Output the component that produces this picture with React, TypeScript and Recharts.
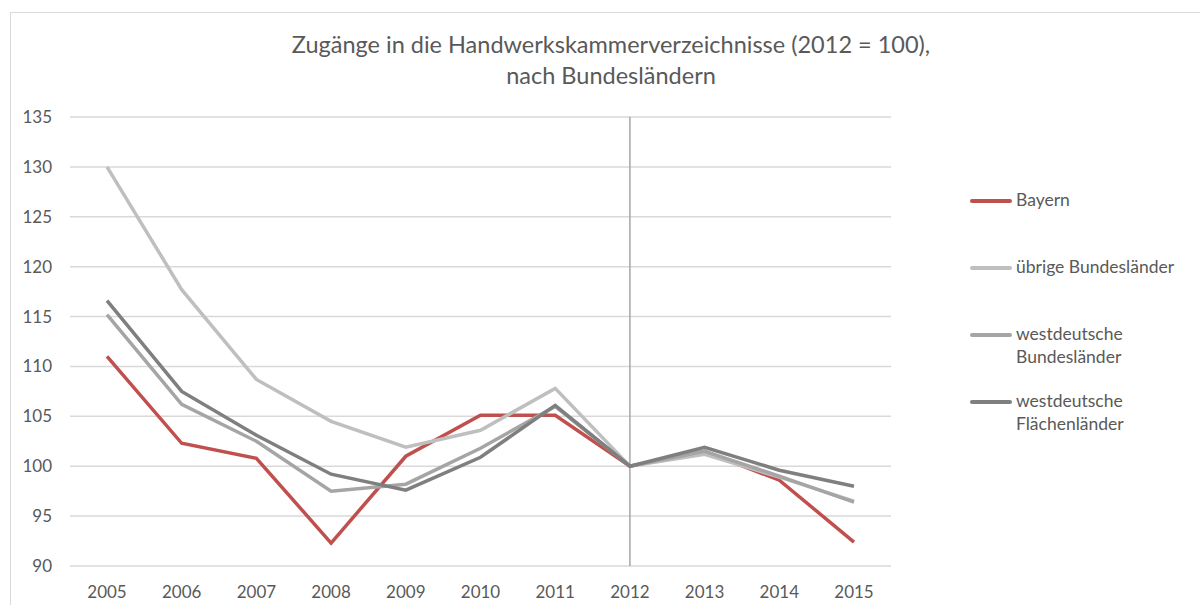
import React from 'react';
import { LineChart, Line, XAxis, YAxis, CartesianGrid, ReferenceLine } from 'recharts';

const YEARS = ['2005', '2006', '2007', '2008', '2009', '2010', '2011', '2012', '2013', '2014', '2015'];
const BAYERN = [111.0, 102.3, 100.8, 92.3, 101.0, 105.1, 105.1, 100.0, 101.5, 98.6, 92.4];
const UEBRIGE = [130.0, 117.7, 108.7, 104.5, 101.9, 103.6, 107.8, 100.0, 101.2, 98.9, 96.5];
const WEST_BL = [115.2, 106.2, 102.5, 97.5, 98.2, 101.8, 106.0, 100.0, 101.5, 99.0, 96.4];
const WEST_FL = [116.6, 107.5, 103.1, 99.2, 97.6, 100.9, 106.1, 100.0, 101.9, 99.6, 98.0];
const Y_TICKS = [90, 95, 100, 105, 110, 115, 120, 125, 130, 135];

const SERIES = [
  { key: 'bayern', name: 'Bayern', lines: ['Bayern'], color: '#c0504d', values: BAYERN },
  { key: 'uebrige', name: 'übrige Bundesländer', lines: ['übrige Bundesländer'], color: '#bfbfbf', values: UEBRIGE },
  { key: 'westBl', name: 'westdeutsche Bundesländer', lines: ['westdeutsche', 'Bundesländer'], color: '#a5a5a5', values: WEST_BL },
  { key: 'westFl', name: 'westdeutsche Flächenländer', lines: ['westdeutsche', 'Flächenländer'], color: '#7f7f7f', values: WEST_FL },
];

const FONT = 'Lato, "Open Sans", sans-serif';
const TEXT = '#595959';

const data = YEARS.map((year, i) => {
  const row: any = { year };
  SERIES.forEach(s => { row[s.key] = s.values[i]; });
  return row;
});

// legend drawn next to the chart, Excel style
const LegendBox = () => (
  <div style={{ fontFamily: FONT, fontSize: 17.5, color: TEXT }}>
    {SERIES.map(s => (
      <div key={s.key} style={{ display: 'flex', alignItems: 'flex-start', height: 67 }}>
        <div style={{ width: 42, height: 4, background: s.color, marginTop: 11, marginRight: 4, borderRadius: 2 }} />
        <div style={{ lineHeight: '23px' }}>
          {s.lines.map(l => <div key={l}>{l}</div>)}
        </div>
      </div>
    ))}
  </div>
);

export default function App() {
  return (
    <div style={{ position: 'fixed', left: 0, top: 0, width: 1200, height: 605, background: '#fff', overflow: 'hidden' }}>
      <div style={{ position: 'absolute', left: 10, top: 12, width: 1300, height: 700, border: '1px solid #d9d9d9' }} />
      <div style={{ position: 'absolute', left: 0, top: 29, width: 1222, textAlign: 'center', fontFamily: FONT, fontSize: 23.5, color: TEXT, lineHeight: '31px' }}>
        Zugänge in die Handwerkskammerverzeichnisse (2012 = 100),<br />nach Bundesländern
      </div>
      <div style={{ position: 'absolute', left: 0, top: 0 }}>
        <LineChart width={1200} height={605} data={data} margin={{ top: 117, right: 309, bottom: 9, left: 10 }}>
          <CartesianGrid vertical={false} stroke="#d9d9d9" strokeWidth={1.5} />
          <XAxis
            dataKey="year"
            axisLine={false}
            tickLine={false}
            height={30}
            tickMargin={14}
            interval={0}
            padding={{ left: 37, right: 37 }}
            tick={{ fill: TEXT, fontSize: 17, fontFamily: FONT }}
          />
          <YAxis
            domain={[90, 135]}
            ticks={Y_TICKS}
            interval={0}
            axisLine={false}
            tickLine={false}
            width={60}
            tickMargin={12}
            tick={{ fill: TEXT, fontSize: 17, fontFamily: FONT }}
          />
          <ReferenceLine x="2012" stroke="#a6a6a6" strokeWidth={1.5} />
          {SERIES.map(s => (
            <Line
              key={s.key}
              type="linear"
              dataKey={s.key}
              name={s.name}
              stroke={s.color}
              strokeWidth={3.5}
              dot={false}
              isAnimationActive={false}
            />
          ))}
        </LineChart>
      </div>
      <div style={{ position: 'absolute', left: 970, top: 188 }}>
        <LegendBox />
      </div>
    </div>
  );
}
